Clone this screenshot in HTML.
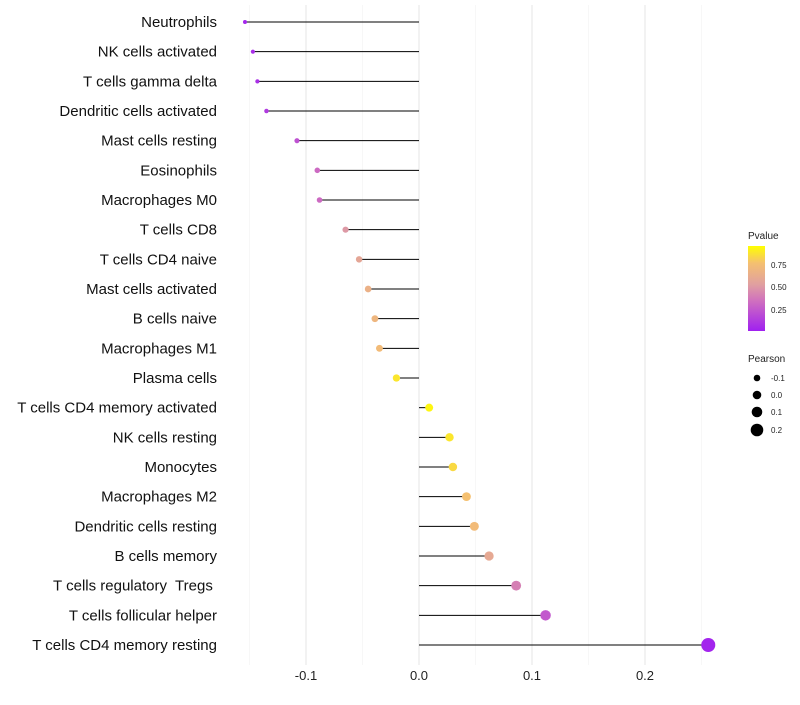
<!DOCTYPE html>
<html><head><meta charset="utf-8"><style>
body{margin:0;background:#fff;font-family:"Liberation Sans",sans-serif}
text{white-space:pre}
</style></head><body>
<svg id="chart" width="800" height="700" xmlns="http://www.w3.org/2000/svg">
<defs><linearGradient id="pg" x1="0" y1="1" x2="0" y2="0">
<stop offset="0" stop-color="#a020f0"/><stop offset="0.35" stop-color="#cf6fbf"/><stop offset="0.55" stop-color="#e0a0a0"/><stop offset="0.8" stop-color="#f5c070"/><stop offset="1" stop-color="#ffff00"/></linearGradient></defs>
<g id="grid"></g><g id="marks"></g><g id="labels"></g>
<g>
<text x="748" y="239" font-size="10" fill="#222">Pvalue</text>
<rect x="748" y="246" width="17" height="85" fill="url(#pg)"/>
<text x="771" y="268" font-size="8" fill="#222">0.75</text>
<text x="771" y="290" font-size="8" fill="#222">0.50</text>
<text x="771" y="313" font-size="8" fill="#222">0.25</text>
</g>
<g>
<text x="748" y="362" font-size="10" fill="#222">Pearson</text>
<circle cx="757" cy="378" r="3.3"/><text x="771" y="381" font-size="8" fill="#222">-0.1</text>
<circle cx="757" cy="395" r="4.3"/><text x="771" y="398" font-size="8" fill="#222">0.0</text>
<circle cx="757" cy="412" r="5.3"/><text x="771" y="415" font-size="8" fill="#222">0.1</text>
<circle cx="757" cy="430" r="6.3"/><text x="771" y="433" font-size="8" fill="#222">0.2</text>
</g>
</svg>
<script>
const cells=["Neutrophils","NK cells activated","T cells gamma delta","Dendritic cells activated","Mast cells resting","Eosinophils","Macrophages M0","T cells CD8","T cells CD4 naive","Mast cells activated","B cells naive","Macrophages M1","Plasma cells","T cells CD4 memory activated","NK cells resting","Monocytes","Macrophages M2","Dendritic cells resting","B cells memory","T cells regulatory  Tregs ","T cells follicular helper","T cells CD4 memory resting"];
const pearson=[-0.154,-0.147,-0.143,-0.135,-0.108,-0.090,-0.088,-0.065,-0.053,-0.045,-0.039,-0.035,-0.020,0.009,0.027,0.030,0.042,0.049,0.062,0.086,0.112,0.256];
const pvalue=[0.03,0.06,0.07,0.12,0.22,0.33,0.33,0.52,0.6,0.68,0.72,0.76,0.92,0.97,0.92,0.88,0.8,0.76,0.62,0.42,0.25,0.02];
const xTicks=[-0.1,0,0.1,0.2];
const xTickLabels=["-0.1","0.0","0.1","0.2"];
const NS="http://www.w3.org/2000/svg";
const x=v=>419+v*1130;
const y=i=>22+i*(623/21);
const r=v=>2+(v+0.154)/(0.41)*5;
function col(p){const st=[[0,[160,32,240]],[0.35,[207,111,191]],[0.55,[224,160,160]],[0.8,[245,192,112]],[1,[255,255,0]]];
for(let k=1;k<st.length;k++){if(p<=st[k][0]){const a=st[k-1],b=st[k],t=(p-a[0])/(b[0]-a[0]);return "rgb("+a[1].map((c,j)=>Math.round(c+(b[1][j]-c)*t)).join(",")+")";}}return "rgb(255,255,0)";}
function mk(tag,at,parent){const e=document.createElementNS(NS,tag);for(const k in at)e.setAttribute(k,at[k]);document.getElementById(parent).appendChild(e);return e;}
const grid=[-0.15,-0.1,-0.05,0,0.05,0.1,0.15,0.2,0.25];
grid.forEach(g=>{const major=Math.abs(Math.round(g*100))%10==0;const l=mk("line",{x1:x(g),x2:x(g),y1:5,y2:665,stroke:major?"#e6e6e6":"#f2f2f2","stroke-width":major?1:0.6},"grid");

});
xTicks.forEach((t,i)=>{const e=mk("text",{x:x(t),y:680,"font-size":13,"text-anchor":"middle",fill:"#222"},"labels");e.textContent=xTickLabels[i];

});
cells.forEach((c,i)=>{
const t=mk("text",{x:217,y:y(i)+5,"font-size":15,"text-anchor":"end",fill:"#111"},"labels");t.textContent=c;


const l=mk("line",{x1:x(0),x2:x(pearson[i]),y1:y(i),y2:y(i),stroke:"#000","stroke-width":1},"marks");


const d=mk("circle",{cx:x(pearson[i]),cy:y(i),r:r(pearson[i]),fill:col(pvalue[i])},"marks");


});
</script>
</body></html>
